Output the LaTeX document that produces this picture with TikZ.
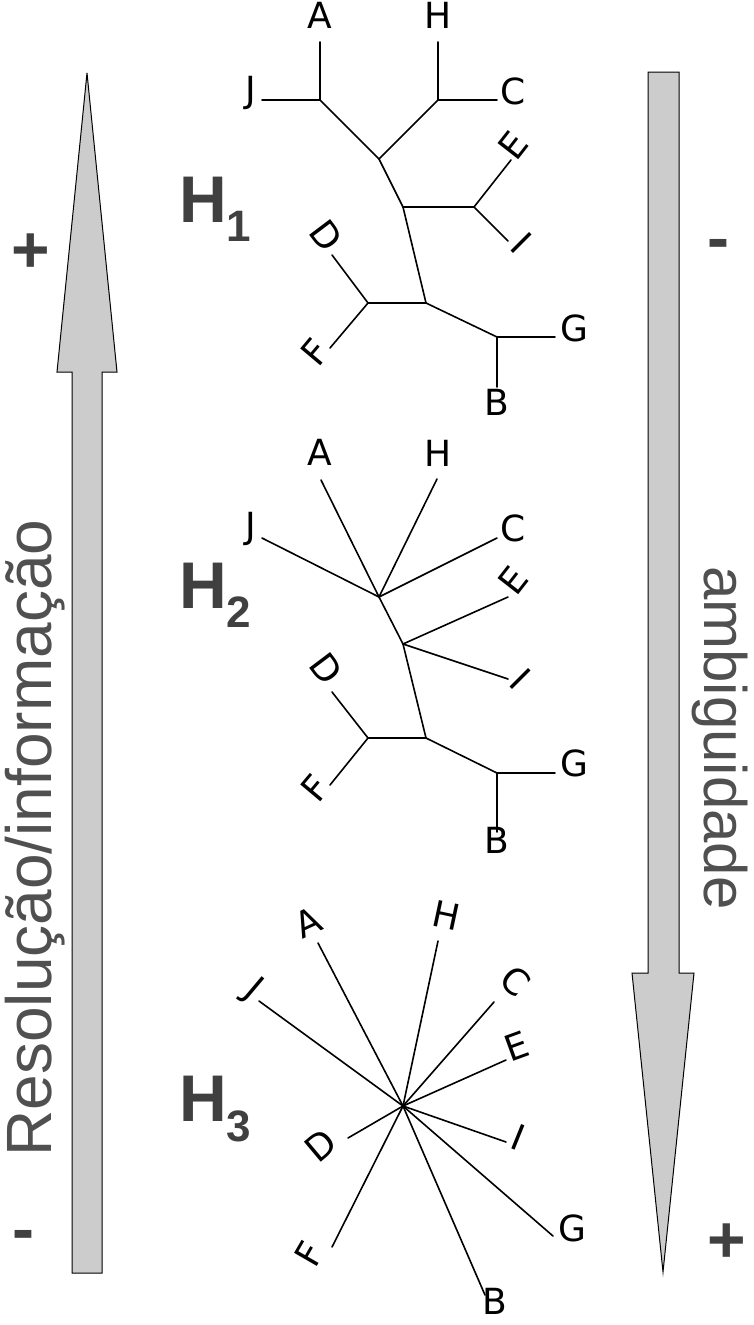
\documentclass[tikz,border=0pt]{standalone}
\usepackage{fontspec}
\setmainfont{Liberation Sans}
\newfontfamily\leaffont{DejaVu Sans}
\usetikzlibrary{positioning}
\definecolor{arrowgray}{HTML}{CCCCCC}
\definecolor{labelgray}{HTML}{404040}
\definecolor{textgray}{HTML}{505050}
\newcommand{\hyplabel}[1]{H\raisebox{-0.29em}{\fontsize{44}{44}\selectfont #1}}

\begin{document}
\begin{tikzpicture}[x=1pt,y=-1pt,
			branch/.style={line width=1.6pt, black, line cap=round},
			leaf/.style={font=\leaffont\fontsize{36}{36}\selectfont,
				inner sep=0pt, text height=0.73em, text depth=0pt},
			hyp node/.style={font=\fontsize{66}{66}\selectfont\bfseries,
				text=labelgray, inner sep=0pt, anchor=west},
			sign node/.style={font=\fontsize{66}{66}\selectfont\bfseries,
				text=labelgray, inner sep=0pt},
			axis node/.style={font=\fontsize{60}{60}\selectfont,
				text=textgray, inner sep=0pt},
			big arrow/.style={draw=black, line width=1pt, fill=arrowgray}
			]
			\useasboundingbox (0,0) rectangle (754,1325);
			
			% arrows
			\draw[big arrow] (72,1273) -- (72,372) -- (57,372) -- (87,73)
			-- (117,372) -- (102,372) -- (102,1273) -- cycle;
			\draw[big arrow] (648,72) -- (679,72) -- (679,973) -- (694,973)
			-- (663,1272) -- (632,973) -- (648,973) -- cycle;
			
			\node[axis node,rotate=90,font=\fontsize{64}{64}\selectfont] (resol) at (35,838) {Resolução/informação};
			\node[axis node,rotate=-90] (ambig) at (720,738) {ambiguidade};
			
			\node[sign node] (plusL) at (31,253) {+};
			\node[sign node] (minusR) at (718,250) {-};
			\node[sign node] (minusL) at (23,1241) {-};
			\node[sign node] (plusR) at (727,1243) {+};
			
			\node[hyp node] (hyp1) at (179,209) {\hyplabel{1}};
			\node[hyp node] (hyp2) at (179,595) {\hyplabel{2}};
			\node[hyp node] (hyp3) at (179,1109) {\hyplabel{3}};
			
			% tree H1
			\coordinate (t1n1) at (320,100);
			\coordinate (t1n2) at (438,100);
			\coordinate (t1n3) at (379,159);
			\coordinate (t1n4) at (403,207);
			\coordinate (t1n5) at (474,207);
			\coordinate (t1n6) at (426,303);
			\coordinate (t1n7) at (368,303);
			\coordinate (t1n8) at (497,337);
			\coordinate (t1A) at (320,42);
			\coordinate (t1J) at (262,100);
			\coordinate (t1H) at (438,42);
			\coordinate (t1C) at (497,100);
			\coordinate (t1E) at (511,160);
			\coordinate (t1I) at (508,241);
			\coordinate (t1D) at (332,255);
			\coordinate (t1F) at (330,348);
			\coordinate (t1G) at (555,337);
			\coordinate (t1B) at (497,387);
			\node[leaf] (lA1) at (320,25) {A};
			\node[leaf] (lJ1) at (251,99) {J};
			\node[leaf] (lH1) at (438,25) {H};
			\node[leaf] (lC1) at (513,101) {C};
			\node[leaf,rotate=52] (lE1) at (521,151) {E};
			\node[leaf,rotate=-45] (lI1) at (515,250) {I};
			\node[leaf,rotate=-53] (lD1) at (319,241) {D};
			\node[leaf,rotate=50] (lF1) at (322,358) {F};
			\node[leaf] (lG1) at (574,338) {G};
			\node[leaf] (lB1) at (497,412) {B};
			
			\path[branch]
			(t1n1) edge (t1A)
			(t1n1) edge (t1J)
			(t1n1) edge (t1n3)
			(t1n2) edge (t1H)
			(t1n2) edge (t1C)
			(t1n2) edge (t1n3)
			(t1n3) edge (t1n4)
			(t1n4) edge (t1n5)
			(t1n5) edge (t1E)
			(t1n5) edge (t1I)
			(t1n4) edge (t1n6)
			(t1n6) edge (t1n7)
			(t1n7) edge (t1D)
			(t1n7) edge (t1F)
			(t1n6) edge (t1n8)
			(t1n8) edge (t1G)
			(t1n8) edge (t1B);
			
			% tree H2
			\coordinate (t2n1) at (379,597);
			\coordinate (t2n2) at (403,644);
			\coordinate (t2n3) at (426,738);
			\coordinate (t2n4) at (368,738);
			\coordinate (t2n5) at (497,773);
			\coordinate (t2A) at (321,480);
			\coordinate (t2J) at (262,538);
			\coordinate (t2H) at (437,479);
			\coordinate (t2C) at (497,538);
			\coordinate (t2E) at (508,597);
			\coordinate (t2I) at (508,679);
			\coordinate (t2D) at (332,692);
			\coordinate (t2F) at (330,785);
			\coordinate (t2G) at (555,773);
			\coordinate (t2B) at (497,832);
			\node[leaf] (lA2) at (320,462) {A};
			\node[leaf] (lJ2) at (251,535) {J};
			\node[leaf] (lH2) at (438,463) {H};
			\node[leaf] (lC2) at (513,538) {C};
			\node[leaf,rotate=52] (lE2) at (521,586) {E};
			\node[leaf,rotate=-45] (lI2) at (514,686) {I};
			\node[leaf,rotate=-53] (lD2) at (319,674) {D};
			\node[leaf,rotate=50] (lF2) at (322,794) {F};
			\node[leaf] (lG2) at (574,773) {G};
			\node[leaf] (lB2) at (497,850) {B};
			
			\path[branch]
			(t2n1) edge (t2A)
			(t2n1) edge (t2J)
			(t2n1) edge (t2H)
			(t2n1) edge (t2C)
			(t2n1) edge (t2n2)
			(t2n2) edge (t2E)
			(t2n2) edge (t2I)
			(t2n2) edge (t2n3)
			(t2n3) edge (t2n4)
			(t2n4) edge (t2D)
			(t2n4) edge (t2F)
			(t2n3) edge (t2n5)
			(t2n5) edge (t2G)
			(t2n5) edge (t2B);
			
			% tree H3
			\coordinate (t3c) at (403,1106);
			\coordinate (t3J) at (259,1001);
			\coordinate (t3A) at (318,943);
			\coordinate (t3H) at (438,941);
			\coordinate (t3C) at (494,1002);
			\coordinate (t3E) at (506,1060);
			\coordinate (t3I) at (506,1142);
			\coordinate (t3G) at (553,1236);
			\coordinate (t3B) at (485,1295);
			\coordinate (t3F) at (332,1247);
			\coordinate (t3D) at (348,1138);
			\node[leaf,rotate=-40] (lJ3) at (249,995) {J};
			\node[leaf,rotate=25] (lA3) at (312,931) {A};
			\node[leaf,rotate=-12] (lH3) at (444,925) {H};
			\node[leaf,rotate=-42] (lC3) at (509,988) {C};
			\node[leaf,rotate=20] (lE3) at (520,1055) {E};
			\node[leaf,rotate=-22] (lI3) at (515,1146) {I};
			\node[leaf,rotate=40] (lD3) at (327,1153) {D};
			\node[leaf,rotate=60] (lF3) at (318,1259) {F};
			\node[leaf] (lG3) at (572,1238) {G};
			\node[leaf] (lB3) at (495,1311) {B};
			
			\path[branch]
			(t3c) edge (t3J)
			(t3c) edge (t3A)
			(t3c) edge (t3H)
			(t3c) edge (t3C)
			(t3c) edge (t3E)
			(t3c) edge (t3I)
			(t3c) edge (t3G)
			(t3c) edge (t3B)
			(t3c) edge (t3F)
			(t3c) edge (t3D);
		\end{tikzpicture}
\end{document}
